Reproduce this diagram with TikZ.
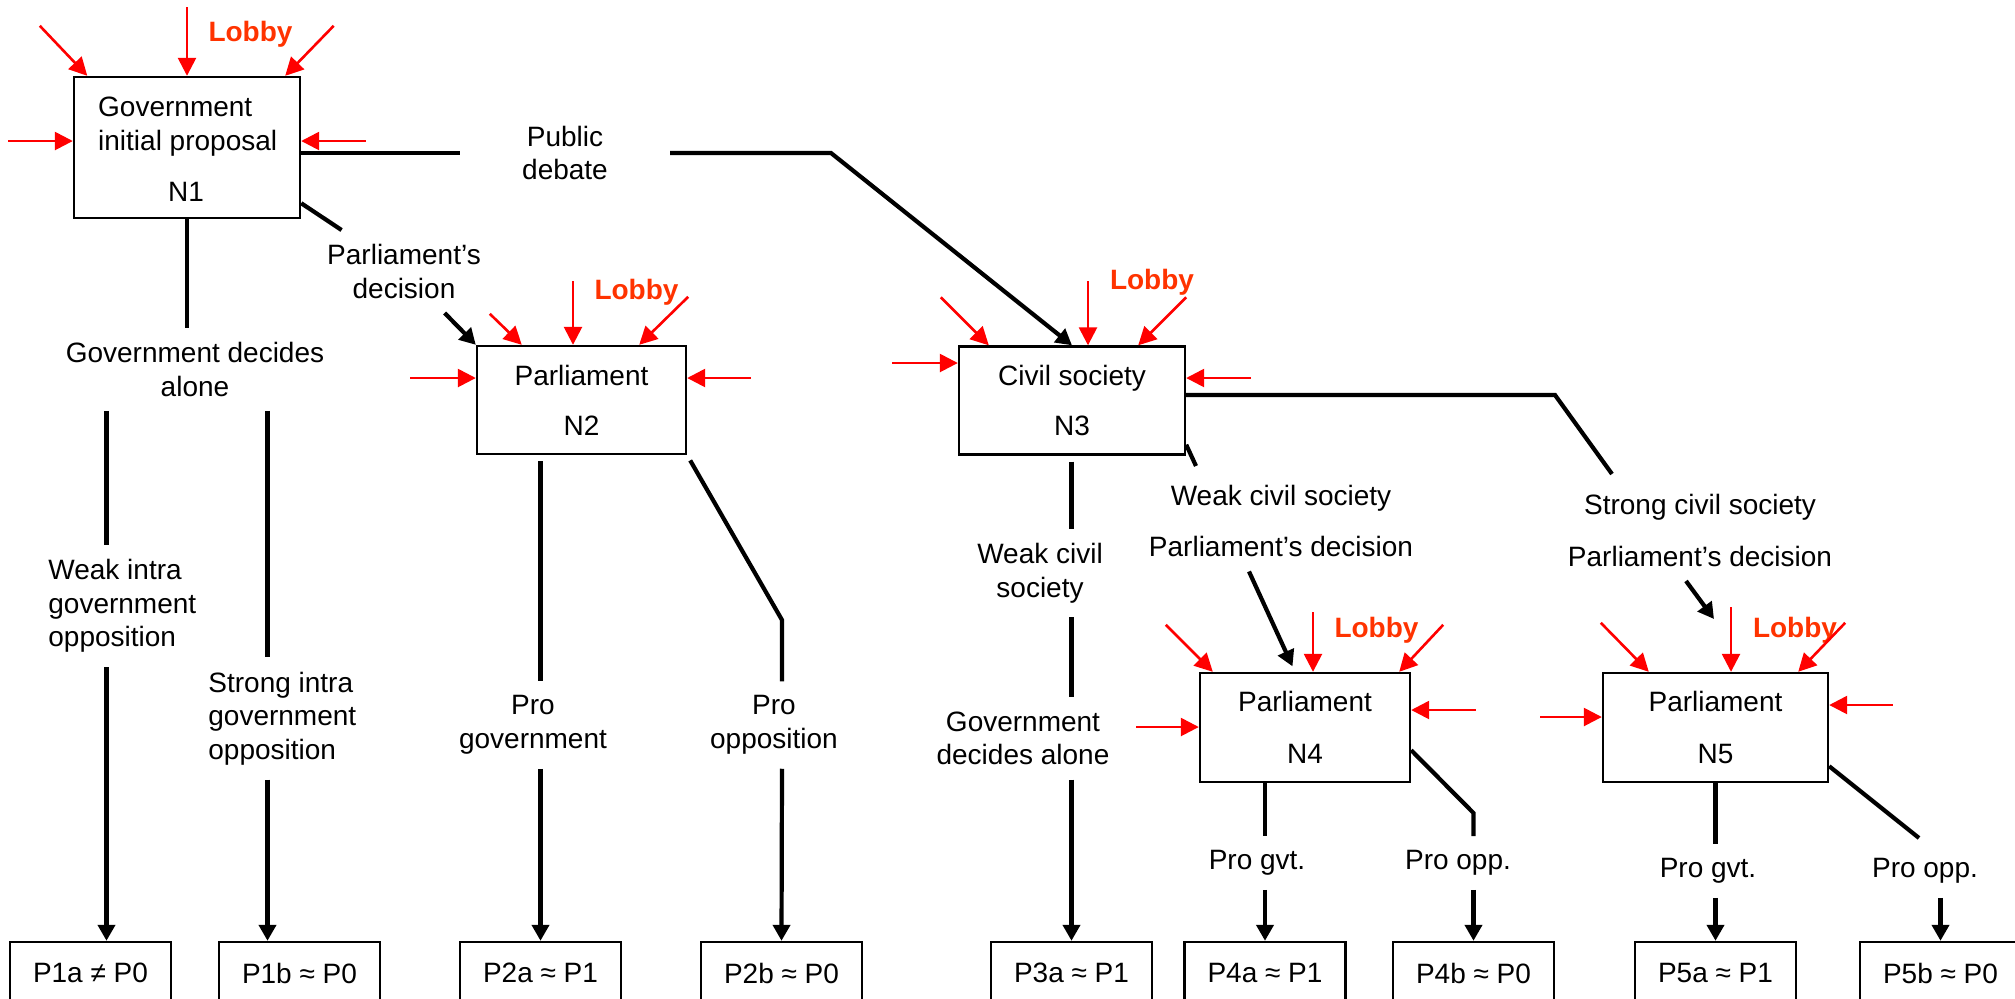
\documentclass[tikz,border=0pt]{standalone}
\usepackage{fontspec}
\setmainfont{Liberation Sans}
\usepackage{tikz}
\usetikzlibrary{arrows.meta}
\usetikzlibrary{calc}
\definecolor{lobbyred}{RGB}{255,51,0}
\tikzset{
box/.style={draw, line width=1.2pt, inner sep=0pt, align=center, font=\fontsize{14pt}{16.8pt}\selectfont},
lbl/.style={inner sep=7pt, align=center, font=\fontsize{14pt}{16.8pt}\selectfont},
lobbytxt/.style={text=lobbyred, inner sep=0pt, font=\fontsize{14pt}{16.8pt}\selectfont\bfseries},
branch/.style={line width=2.1pt},
arr/.style={line width=2.1pt, -{Triangle[length=8pt,width=8.5pt]}},
lobby/.style={red, line width=1.3pt, {Triangle[length=9pt,width=9pt]}-}
}

\begin{document}
\begin{tikzpicture}[x=0.5pt,y=-0.5pt]
    \useasboundingbox (0,0) rectangle (2015,998);
    \clip (0,0) rectangle (2015,998);

                % decision nodes
                \node[box, minimum width=113pt, minimum height=70.5pt] (N1) at (187,147.5) {};
                \node[box, draw=none, align=left, anchor=west] (N1t) at (97,126.5) {Government\\initial proposal};
                \node[box, draw=none] (N1n) at (186,192) {N1};
                \node[box, minimum width=104.5pt, minimum height=54pt] (N2) at (581.5,400) {Parliament\\[8.2pt]N2};
                \node[box, minimum width=113pt, minimum height=54pt] (N3) at (1072,400.5) {Civil society\\[8.2pt]N3};
                \node[box, minimum width=105pt, minimum height=54.5pt] (N4) at (1305,727.5) {Parliament\\[9pt]N4};
                \node[box, minimum width=112.5pt, minimum height=54.5pt] (N5) at (1715.5,727.5) {Parliament\\[9pt]N5};

                % outcomes
                \node[box, minimum width=80.5pt, minimum height=31pt] (P1a) at (90.5,973) {P1a ≠ P0};
                \node[box, minimum width=80.5pt, minimum height=31pt] (P1b) at (299.5,973) {P1b ≈ P0};
                \node[box, minimum width=80.5pt, minimum height=31pt] (P2a) at (540.5,973) {P2a ≈ P1};
                \node[box, minimum width=80.5pt, minimum height=31pt] (P2b) at (781.5,973) {P2b ≈ P0};
                \node[box, minimum width=80.5pt, minimum height=31pt] (P3a) at (1071.5,973) {P3a ≈ P1};
                \node[box, minimum width=80.5pt, minimum height=31pt] (P4a) at (1265,973) {P4a ≈ P1};
                \node[box, minimum width=80.5pt, minimum height=31pt] (P4b) at (1473.5,973) {P4b ≈ P0};
                \node[box, minimum width=80.5pt, minimum height=31pt] (P5a) at (1715.5,973) {P5a ≈ P1};
                \node[box, minimum width=80.5pt, minimum height=31pt] (P5b) at (1940.5,973) {P5b ≈ P0};

                % branch labels
                \node[lbl, inner xsep=31pt] (pub) at (565,153) {Public\\debate};
                \node[lbl] (pd) at (404,271.5) {Parliament’s\\decision};
                \node[lbl] (gda) at (195,369.5) {Government decides\\alone};
                \node[lbl, align=left, anchor=west] (wig) at (34,606) {Weak intra\\government\\opposition};
                \node[lbl, align=left, anchor=west] (sig) at (194,718.5) {Strong intra\\government\\opposition};
                \node[lbl] (pgov) at (533,725) {Pro\\government};
                \node[lbl] (popp) at (774,725) {Pro\\opposition};
                \node[lbl] (wcs3) at (1040,573) {Weak civil\\society};
                \node[lbl] (gda3) at (1023,738.5) {Government\\decides alone};
                \node[lbl] (wcs4) at (1281,521) {Weak civil society\\[9pt]Parliament’s decision};
                \node[lbl] (scs5) at (1700,530.5) {Strong civil society\\[9pt]Parliament’s decision};
                \node[lbl] (pg4) at (1257,863) {Pro gvt.};
                \node[lbl] (po4) at (1458,863) {Pro opp.};
                \node[lbl] (pg5) at (1708,871) {Pro gvt.};
                \node[lbl] (po5) at (1925,871) {Pro opp.};

                \node[lobbytxt] (L1) at (250.5,34) {Lobby};
                \node[lobbytxt] (L2) at (636.5,292) {Lobby};
                \node[lobbytxt] (L3) at (1152,282) {Lobby};
                \node[lobbytxt] (L4) at (1376.5,630) {Lobby};
                \node[lobbytxt] (L5) at (1795,630) {Lobby};

                % bends and free ends
                \coordinate (k1) at (831,153);
                \coordinate (k2) at (782,620);
                \coordinate (k3) at (1196,466);
                \coordinate (k5a) at (1555,395);
                \coordinate (k5b) at (1612,474);
                \coordinate (a5) at (1714,619);
                \coordinate (k4) at (1473.5,813);
                \coordinate (k6) at (1919,838);
                \coordinate (t1a) at ($(P1a.north)+(16,0)$);
                \coordinate (t1b) at ($(P1b.north)+(-32,0)$);

                % N1
                \draw[branch] ($(N1.east)+(0,5.5)$) -- (pub);
                \draw[arr] (pub) -- (k1) -- (N3.north);
                \draw[branch] ($(N1.south east)+(0,-16)$) -- (pd);
                \draw[arr] (pd) -- (N2.north west);
                \draw[branch] (N1.south) -- (N1.south |- gda.north);
                \draw[branch] (gda.south -| t1a) -- (wig.north -| t1a);
                \draw[arr] (wig.south -| t1a) -- (t1a);
                \draw[branch] (gda.south -| t1b) -- (sig.north -| t1b);
                \draw[arr] (sig.south -| t1b) -- (t1b);

                % N2
                \draw[branch, shorten <=3pt] (N2.south -| P2a.north) -- (pgov.north -| P2a.north);
                \draw[arr] (pgov.south -| P2a.north) -- (P2a.north);
                \draw[branch, shorten <=3pt] (N2.south east) -- (k2) -- (popp.north -| k2);
                \draw[arr] (popp.south -| k2) -- (P2b.north);

                % N3
                \draw[branch, shorten <=3pt] (N3.south -| P3a.north) -- (wcs3.north -| P3a.north);
                \draw[branch] (wcs3.south -| P3a.north) -- (gda3.north -| P3a.north);
                \draw[arr] (gda3.south -| P3a.north) -- (P3a.north);
                \draw[branch] ($(N3.south east)+(0,-11)$) -- (k3);
                \draw[arr, shorten >=3pt] ($(wcs4.south)+(-32,0)$) -- ($(N4.north)+(-10,0)$);
                \draw[branch] ($(N3.east)+(0,-5.5)$) -- (k5a) -- (k5b);
                \draw[arr] ($(scs5.south)+(-14,0)$) -- (a5);

                % N4
                \draw[branch] (N4.south -| P4a.north) -- (pg4.north -| P4a.north);
                \draw[arr] (pg4.south -| P4a.north) -- (P4a.north);
                \draw[branch] ($(N4.south east)+(0,-33)$) -- (k4) -- (po4.north -| k4);
                \draw[arr] (po4.south -| k4) -- (P4b.north);

                % N5
                \draw[branch] (N5.south) -- (pg5.north -| N5.south);
                \draw[arr] (pg5.south -| P5a.north) -- (P5a.north);
                \draw[branch] ($(N5.south east)+(0,-17)$) -- (k6);
                \draw[arr] (po5.south -| P5b.north) -- (P5b.north);

                % lobby arrows
                \draw[lobby] ($(N1.north west)+(14.5,0)$) -- ++(-47.5,-50);
                \draw[lobby] (N1.north) -- ++(0,-69);
                \draw[lobby] ($(N1.north east)+(-16,0)$) -- ++(48.5,-50);
                \draw[lobby] ($(N1.west)+(0,-6.5)$) -- ++(-65,0);
                \draw[lobby] ($(N1.east)+(0,-6.5)$) -- ++(65,0);

                \draw[lobby] ($(N2.north west)+(46,0)$) -- ++(-32,-31);
                \draw[lobby] ($(N2.north)+(-8.5,0)$) -- ++(0,-64);
                \draw[lobby] ($(N2.north east)+(-48,0)$) -- ++(49,-48);
                \draw[lobby] ($(N2.west)+(0,-22)$) -- ++(-66,0);
                \draw[lobby] ($(N2.east)+(0,-22)$) -- ++(64,0);

                \draw[lobby] ($(N3.north west)+(31,0)$) -- ++(-48,-48);
                \draw[lobby] ($(N3.north)+(16,0)$) -- ++(0,-64);
                \draw[lobby] ($(N3.north east)+(-48,0)$) -- ++(48,-48);
                \draw[lobby] ($(N3.west)+(0,-37.5)$) -- ++(-66,0);
                \draw[lobby] ($(N3.east)+(0,-22.5)$) -- ++(65,0);

                \draw[lobby] ($(N4.north west)+(14,0)$) -- ++(-47,-47);
                \draw[lobby] ($(N4.north)+(8,0)$) -- ++(0,-60);
                \draw[lobby] ($(N4.north east)+(-12,0)$) -- ++(44,-47);
                \draw[lobby] ($(N4.west)+(0,-0.5)$) -- ++(-63,0);
                \draw[lobby] ($(N4.east)+(0,-17.5)$) -- ++(65,0);

                \draw[lobby] ($(N5.north west)+(47,0)$) -- ++(-48,-49);
                \draw[lobby] ($(N5.north)+(15.5,0)$) -- ++(0,-65);
                \draw[lobby] ($(N5.north east)+(-31,0)$) -- ++(47,-49);
                \draw[lobby] ($(N5.west)+(0,-10.5)$) -- ++(-62,0);
                \draw[lobby] ($(N5.east)+(0,-22.5)$) -- ++(64,0);

            \end{tikzpicture}
\end{document}
